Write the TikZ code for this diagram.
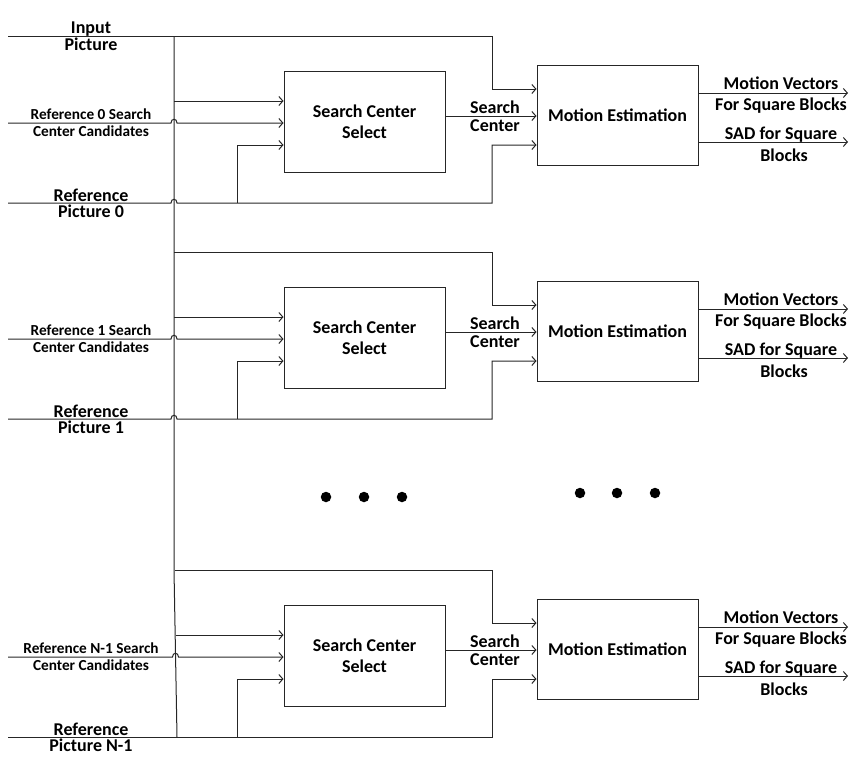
\documentclass[tikz,border=0pt]{standalone}
\usepackage{fontspec}
\setmainfont{Carlito}
\usetikzlibrary{arrows.meta}

\tikzset{
	linie/.style={line width=1pt,color=black!85},
	pfeil/.style={linie,-{Straight Barb[length=4pt,width=9pt]}},
	kasten/.style={draw=black!85,line width=1pt,minimum width=161pt,minimum height=101pt,
		inner sep=0pt,align=center,font=\bfseries\fontsize{18}{21}\selectfont},
	gross/.style={inner sep=0pt,anchor=base,font=\bfseries\fontsize{18}{21}\selectfont},
	klein/.style={inner sep=0pt,anchor=base,font=\bfseries\fontsize{15.3}{17}\selectfont},
	punkt/.style={circle,fill=black,minimum size=10.5pt,inner sep=0pt}
}

\def\sprung#1#2{-- ([xshift=-3pt]#1 |- #2) .. controls +(0,-5) and +(0,-5) .. ([xshift=3pt]#1 |- #2)}

\def\stufe#1#2#3#4#5#6{
	\node[kasten] (scs#1) at (364.5,121.5) {Search Center\\Select};
	\node[kasten,minimum height=100pt] (me#1) at (617.5,115) {Motion Estimation};

	\coordinate (oben#1) at (#2,36);
	\coordinate (ecke#1) at (492,36);
	\coordinate (bus#1) at (#5,101);
	\coordinate (kand#1) at (8,123);
	\coordinate (ref#1) at (8,203);
	\coordinate (eckeu#1) at (492,203);
	\coordinate (abzw#1) at (237,203);
	\coordinate (mv#1) at (848,93);
	\coordinate (sad#1) at (848,142);

	\draw[pfeil] (oben#1) -- (ecke#1) |- (me#1.west |- 0,89);
	\draw[pfeil] (bus#1) -- (scs#1.west |- bus#1);
	\draw[pfeil] (kand#1) \sprung{bus#1}{kand#1} -- (scs#1.west |- kand#1);
	\draw[pfeil] (ref#1) #6 -- (eckeu#1) |- (me#1.west |- 0,145);
	\draw[pfeil] (abzw#1) |- (scs#1.west |- 0,145);
	\draw[pfeil] (scs#1.east |- 0,116) -- (me#1.west |- 0,116);
	\draw[pfeil] (me#1.east |- mv#1) -- (mv#1);
	\draw[pfeil] (me#1.east |- sad#1) -- (sad#1);

	\node[klein] (ka#1) at (91,119) {#3};
	\node[klein] (kb#1) at (91,136) {Center Candidates};
	\node[gross] (ra#1) at (91,201) {Reference};
	\node[gross] (rb#1) at (91,217.5) {#4};
	\node[gross] (sa#1) at (495,113) {Search};
	\node[gross] (sb#1) at (495,131.5) {Center};
	\node[gross] (va#1) at (781,89.3) {Motion Vectors};
	\node[gross] (vb#1) at (781,110.7) {For Square Blocks};
	\node[gross] (da#1) at (781,139.3) {SAD for Square};
	\node[gross] (db#1) at (784,161.7) {Blocks};
}

\begin{document}
\begin{tikzpicture}[x=1pt,y=-1pt]
\useasboundingbox (0,0) rectangle (866,769);

\coordinate (busoben) at (174,36);
\coordinate (busknick) at (174,570);
\coordinate (busunten) at (177,737);
\draw[linie] (busoben) -- (busknick) -- (busunten);

\node[gross] (ina) at (91,33.3) {Input};
\node[gross] (inb) at (91,50) {Picture};

\stufe{0}{8}{Reference 0 Search}{Picture 0}{174}{\sprung{bus0}{ref0}}

\begin{scope}[yshift=-216pt]
\stufe{1}{174}{Reference 1 Search}{Picture 1}{174}{\sprung{bus1}{ref1}}
\end{scope}

\begin{scope}[yshift=-534pt]
\stufe{2}{175}{Reference N-1 Search}{Picture N-1}{175.5}{}
\end{scope}

\foreach \x/\y [count=\i] in {326/497,364/497,402/497,580/493,617/493,655/493}{
	\node[punkt] (p\i) at (\x,\y) {};
}

\end{tikzpicture}
\end{document}
